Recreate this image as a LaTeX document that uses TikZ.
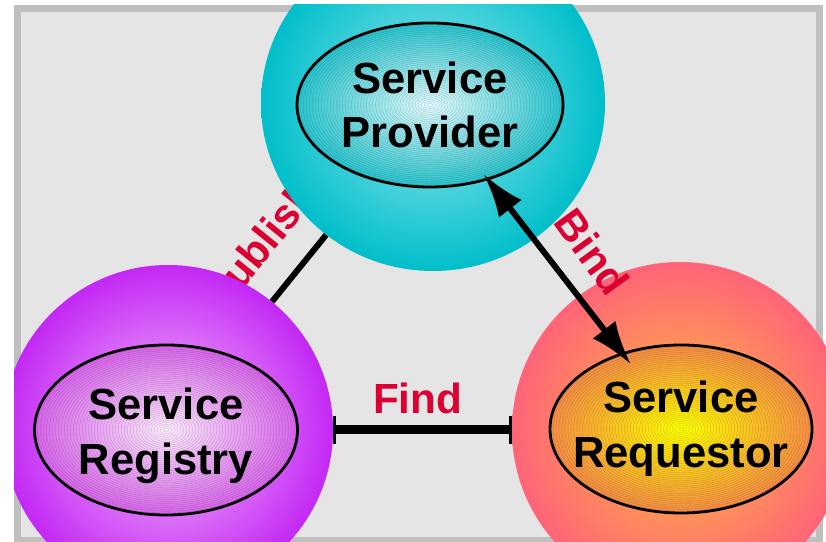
\documentclass[tikz,border=0pt]{standalone}
\usepackage{fontspec}
\setmainfont{Liberation Sans}
\usetikzlibrary{arrows.meta, shapes.geometric}

\definecolor{labelred}{RGB}{220,0,50}
\definecolor{provdark}{RGB}{0,190,202}
\definecolor{provlight}{RGB}{150,232,238}
\definecolor{provcore}{RGB}{225,250,252}
\definecolor{provrim}{RGB}{40,196,206}
\definecolor{regdark}{RGB}{195,40,245}
\definecolor{reglight}{RGB}{245,190,250}
\definecolor{regcore}{RGB}{252,235,252}
\definecolor{regrim}{RGB}{215,100,235}
\definecolor{reqdark}{RGB}{255,100,120}
\definecolor{reqlight}{RGB}{255,190,60}
\definecolor{reqcore}{RGB}{255,255,0}
\definecolor{reqrim}{RGB}{245,140,70}

\begin{document}
\begin{tikzpicture}[> = {Latex[length = 1.1cm, width = 0.72cm]},
	rings/.style = {black, opacity = 0.22, line width = 0.2pt},
	ball/.style = {ellipse, inner sep = 0},
	core/.style = {ellipse, draw, line width = 0.07cm, inner sep = 0},
	svc/.style = {font = \fontsize{31}{39}\selectfont\bfseries, align = center},
	lbl/.style = {font = \fontsize{30}{36}\selectfont\bfseries, text = labelred}]

	\useasboundingbox (0, 0) rectangle (20.65, 13.55);

	% Frame
	
	\draw [line width = 0.175cm, draw = black!25, fill = black!10] (0.4375, 0.0375) rectangle (20.4875, 13.3375);
	
	% Publish label (behind the circles)
	
	\node [lbl, rotate = 51] (publish) at (6.5, 7.425) {Publish};
	
	\begin{scope}
		\clip (0.35, 0) rectangle (20.65, 13.425);
		
		% Service provider
		
		\node [ball, minimum width = 8.6cm, minimum height = 8.4cm, inner color = provlight, outer color = provdark] (prov) at (10.825, 10.975) {};
		\node [core, minimum width = 6.65cm, minimum height = 4.1cm, inner color = provcore, outer color = provrim] (prov-in) at (10.75, 10.925) {};
		\foreach \k in {1, ..., 43}
			\draw [rings] (prov-in.center) ellipse ({3.325 * \k / 44} and {2.05 * \k / 44});
		\node [svc] (prov-txt) at (prov-in.center) {Service\\Provider};
		
		% Service registry
		
		\node [ball, minimum width = 8.25cm, minimum height = 8.25cm, inner color = reglight, outer color = regdark] (reg) at (4.2, 2.8) {};
		\node [core, minimum width = 6.575cm, minimum height = 4.25cm, inner color = regcore, outer color = regrim] (reg-in) at (4.15, 2.8) {};
		\foreach \k in {1, ..., 43}
			\draw [rings] (reg-in.center) ellipse ({3.2875 * \k / 44} and {2.125 * \k / 44});
		\node [svc] (reg-txt) at ([yshift = -0.15cm] reg-in.center) {Service\\Registry};
		
		% Service requestor
		
		\node [ball, minimum width = 8.4cm, minimum height = 8.4cm, inner color = reqlight, outer color = reqdark] (req) at (17.0, 2.8) {};
		\node [core, minimum width = 6.55cm, minimum height = 4.2cm, inner color = reqcore, outer color = reqrim] (req-in) at (17.025, 2.825) {};
		\foreach \k in {1, ..., 43}
			\draw [rings] (req-in.center) ellipse ({3.275 * \k / 44} and {2.1 * \k / 44});
		\node [svc] (req-txt) at (req-in.center) {Service\\Requestor};
	\end{scope}
	
	% Connectors
	
	\draw [line width = 0.15cm] (reg) -- (prov);
	\draw [<->, line width = 0.15cm, shorten <= -0.2cm, shorten >= -0.38cm] (prov-in) -- (req-in);
	\draw [line width = 0.225cm, {Bar[width = 0.7cm, line width = 0.07cm]}-{Bar[width = 0.7cm, line width = 0.07cm]}] (reg) -- (req);
	
	% Labels
	
	\node [lbl, rotate = -54] (bind) at (14.8, 7.25) {Bind};
	\node [lbl] (find) at (10.4375, 3.6) {Find};

\end{tikzpicture}
\end{document}
